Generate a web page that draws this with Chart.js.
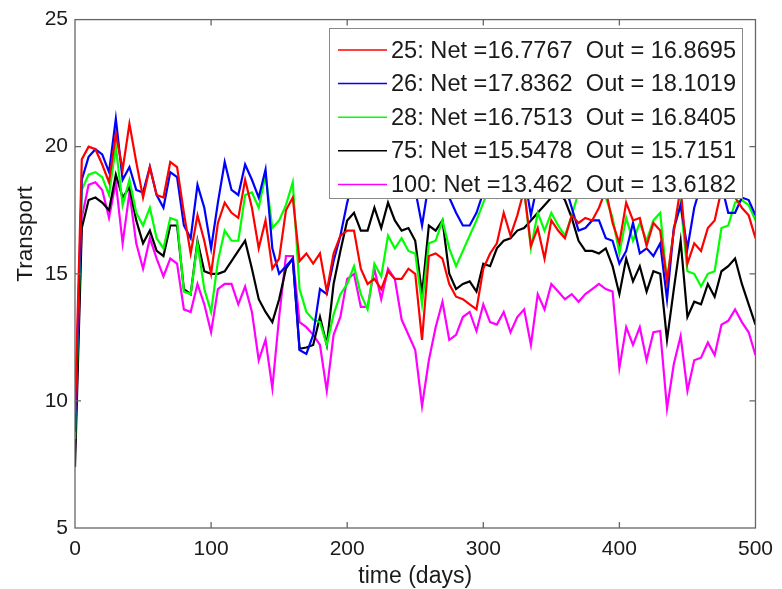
<!DOCTYPE html>
<html><head><meta charset="utf-8">
<script src="https://cdn.jsdelivr.net/npm/chart.js@4/dist/chart.umd.min.js"></script>
<style>html,body{margin:0;padding:0;background:#fff;} #wrap{width:782px;height:589px;}</style>
</head><body><div id="wrap"><canvas id="c" width="782" height="589"></canvas></div>
<script>
// ---- data ----
const days = [0,5,10,15,20,25,30,35,40,45,50,55,60,65,70,75,80,85,90,95,100,105,110,115,120,125,130,135,140,145,150,155,160,165,170,175,180,185,190,195,200,205,210,215,220,225,230,235,240,245,250,255,260,265,270,275,280,285,290,295,300,305,310,315,320,325,330,335,340,345,350,355,360,365,370,375,380,385,390,395,400,405,410,415,420,425,430,435,440,445,450,455,460,465,470,475,480,485,490,495,500];
const seriesLabels = [
  "25: Net =16.7767  Out = 16.8695",
  "26: Net =17.8362  Out = 18.1019",
  "28: Net =16.7513  Out = 16.8405",
  "75: Net =15.5478  Out = 15.7151",
  "100: Net =13.462  Out = 13.6182"
];
const s25 = [9.5,19.5,20.0,19.9,19.3,18.6,20.5,19.1,20.9,19.4,18.0,19.2,18.1,18.0,19.4,19.2,17.4,15.8,17.3,16.3,15.0,17.0,17.8,17.4,17.2,18.7,17.6,16.0,17.1,15.2,15.6,17.5,18.0,15.5,15.8,15.4,15.8,14.3,15.8,16.5,16.7,16.7,15.2,14.6,14.8,14.4,15.1,14.8,14.8,15.2,15.0,12.4,15.7,15.8,15.6,14.6,14.1,14.0,13.8,13.6,15.2,15.8,16.2,17.4,16.5,17.3,18.3,16.1,16.8,15.6,17.1,16.7,16.4,17.3,17.0,17.2,17.1,17.6,18.3,17.0,16.2,17.8,17.1,17.2,16.1,17.0,16.7,14.7,16.7,18.4,15.4,16.2,15.9,16.8,17.1,18.3,18.5,18.0,17.6,17.3,16.4];
const s26 = [8.8,18.7,19.6,19.9,19.7,19.0,21.1,18.7,19.2,18.3,18.2,19.2,18.1,17.6,19.0,18.8,16.9,16.4,18.5,17.6,16.0,17.8,19.4,18.3,18.1,19.3,18.7,18.0,19.1,16.0,15.0,15.3,15.6,12.0,11.85,12.6,14.4,14.2,15.5,16.5,17.8,18.8,19.3,18.6,19.5,18.9,19.7,18.8,19.0,18.6,18.3,16.9,18.6,19.0,18.8,18.0,17.4,16.9,16.9,17.4,18.2,18.8,18.5,19.2,18.7,19.4,18.9,17.3,18.6,18.2,19.0,18.7,18.5,17.6,16.7,16.8,17.1,17.1,16.4,16.3,15.4,15.9,17.0,15.8,16.0,15.7,16.2,14.0,16.8,17.7,16.0,17.6,18.5,18.8,19.0,18.5,17.4,17.4,18.0,17.9,17.3];
const s28 = [8.5,18.3,18.9,19.0,18.8,18.1,20.0,17.7,18.7,17.4,16.9,17.6,16.4,16.0,17.2,17.1,14.3,14.2,16.2,14.4,13.5,15.5,16.7,16.3,16.3,18.1,18.2,17.6,18.9,16.8,17.1,17.7,18.6,14.4,13.5,13.2,13.1,12.2,13.4,14.2,14.6,15.3,14.2,13.6,15.4,14.9,16.5,16.0,16.4,15.9,15.8,13.8,16.2,16.3,17.1,16.0,15.3,15.9,16.5,17.1,17.8,18.4,18.0,18.6,18.2,18.8,18.3,16.0,17.4,16.7,17.4,16.9,16.5,17.3,18.2,18.5,18.8,18.3,18.0,17.2,15.8,17.2,16.3,17.0,16.3,17.1,17.4,14.7,16.7,17.8,15.1,15.0,14.5,15.0,15.1,16.8,16.9,17.8,17.9,17.7,17.1];
const s75 = [7.4,16.8,17.9,18.0,17.8,17.5,18.9,18.0,18.4,17.1,16.2,16.7,15.9,15.7,16.9,16.9,14.4,14.2,16.3,15.1,15.0,15.0,15.1,15.5,15.9,16.3,15.2,14.0,13.5,13.1,14.0,15.2,15.6,12.05,12.1,12.2,13.3,12.2,14.6,15.9,17.1,17.4,16.7,16.7,17.6,16.8,17.8,17.1,16.7,16.8,16.3,14.2,16.9,16.7,17.1,15.0,14.4,14.6,14.7,14.3,15.4,15.3,16.0,16.3,16.4,16.7,16.8,17.1,17.4,17.7,18.0,18.2,17.9,17.2,16.3,15.9,15.9,15.8,16.0,15.3,14.2,15.6,14.7,15.3,14.3,15.1,15.0,12.4,14.4,16.3,13.3,13.9,13.8,14.6,14.1,15.1,15.3,15.6,14.6,13.8,13.0];
const s100 = [8.0,17.2,18.5,18.6,18.3,17.2,18.6,16.2,18.2,16.2,15.2,16.4,15.6,14.9,15.6,15.4,13.6,13.5,14.6,13.8,12.7,14.4,14.6,14.6,13.8,14.5,13.5,11.6,12.4,10.5,13.3,15.7,15.7,13.1,12.9,12.6,12.2,10.4,12.6,13.3,14.8,15.0,13.7,13.7,15.2,14.0,15.2,14.8,13.2,12.6,12.0,9.8,11.6,12.9,13.9,12.4,12.6,13.3,13.5,12.75,13.8,13.1,13.0,13.5,12.7,13.3,13.6,12.2,14.2,13.6,14.6,14.3,14.0,14.2,13.9,14.2,14.4,14.6,14.4,14.3,11.3,12.9,12.2,12.9,11.6,12.7,12.75,9.7,11.45,12.55,10.4,11.6,11.7,12.3,11.8,13.0,13.15,13.6,13.1,12.7,11.8];
const seriesColors = ["#ff0000","#0000ff","#00ff00","#000000","#ff00ff"];
const xTicks = [0,100,200,300,400,500];
const yTicks = [5,10,15,20,25];
const yTitle = "Transport";
const xTitle = "time (days)";

const FONT = '"Liberation Sans", Arial, Helvetica, sans-serif';

const matlabAxes = {
  id: 'matlabAxes',
  afterDatasetsDraw(chart) {
    const {ctx, chartArea: a, scales: {x, y}} = chart;
    ctx.save();
    ctx.strokeStyle = '#666666';
    ctx.lineWidth = 1.3;
    ctx.strokeRect(a.left, a.top, a.right - a.left, a.bottom - a.top);
    const L = 6;
    ctx.beginPath();
    x.ticks.forEach(t => {
      const px = x.getPixelForValue(t.value);
      if (px <= a.left + 1 || px >= a.right - 1) return;
      ctx.moveTo(px, a.bottom); ctx.lineTo(px, a.bottom - L);
      ctx.moveTo(px, a.top); ctx.lineTo(px, a.top + L);
    });
    y.ticks.forEach(t => {
      const py = y.getPixelForValue(t.value);
      if (py <= a.top + 1 || py >= a.bottom - 1) return;
      ctx.moveTo(a.left, py); ctx.lineTo(a.left + L, py);
      ctx.moveTo(a.right, py); ctx.lineTo(a.right - L, py);
    });
    ctx.stroke();
    // y axis title (placed like the reference, above the axis centre)
    ctx.fillStyle = '#1a1a1a';
    ctx.font = '22.5px ' + FONT;
    ctx.textAlign = 'center';
    ctx.textBaseline = 'middle';
    ctx.translate(26, 234);
    ctx.rotate(-Math.PI / 2);
    ctx.fillText(yTitle, 0, 0);
    ctx.restore();
  }
};

const matlabLegend = {
  id: 'matlabLegend',
  afterDatasetsDraw(chart) {
    const ctx = chart.ctx;
    ctx.save();
    ctx.fillStyle = '#ffffff';
    ctx.fillRect(329.5, 28.5, 413, 170);
    ctx.strokeStyle = '#8a8a8a';
    ctx.lineWidth = 1;
    ctx.strokeRect(329.5, 28.5, 413, 170);
    ctx.font = '23.6px ' + FONT;
    ctx.textBaseline = 'middle';
    ctx.textAlign = 'left';
    chart.data.datasets.forEach((ds, k) => {
      const cy = 50 + k * 33.6;
      ctx.strokeStyle = ds.borderColor;
      ctx.lineWidth = 1.5;
      ctx.beginPath(); ctx.moveTo(338, cy); ctx.lineTo(387, cy); ctx.stroke();
      ctx.fillStyle = '#1a1a1a';
      ctx.fillText(ds.label, 391, cy + 1);
    });
    ctx.restore();
  }
};

const allSeries = [s25, s26, s28, s75, s100];
new Chart(document.getElementById('c'), {
  type: 'line',
  data: {
    labels: days,
    datasets: allSeries.map((s, k) => ({
      label: seriesLabels[k],
      data: s,
      borderColor: seriesColors[k],
      backgroundColor: seriesColors[k],
      borderWidth: 2.2,
      pointRadius: 0,
      tension: 0,
      fill: false
    }))
  },
  options: {
    responsive: false,
    animation: false,
    devicePixelRatio: 1,
    layout: { padding: { left: 0, right: 25, top: 17, bottom: 0 } },
    plugins: { legend: { display: false }, tooltip: { enabled: false } },
    scales: {
      x: {
        type: 'linear', min: 0, max: 500,
        afterBuildTicks: s => { s.ticks = xTicks.map(v => ({value: v})); },
        afterFit: s => { s.height = 61; },
        grid: { display: false, drawTicks: false },
        border: { display: false },
        ticks: { padding: 9, color: '#1a1a1a', font: { size: 21, family: FONT }, maxRotation: 0 },
        title: { display: true, text: xTitle, color: '#1a1a1a', font: { size: 23, family: FONT }, padding: { top: 0, bottom: -1 } }
      },
      y: {
        type: 'linear', min: 5, max: 25,
        afterBuildTicks: s => { s.ticks = yTicks.map(v => ({value: v})); },
        afterFit: s => { s.width = 75; },
        grid: { display: false, drawTicks: false },
        border: { display: false },
        ticks: { padding: 7, color: '#1a1a1a', font: { size: 21, family: FONT } },
        title: { display: false }
      }
    }
  },
  plugins: [matlabAxes, matlabLegend]
});
</script>
</body></html>
